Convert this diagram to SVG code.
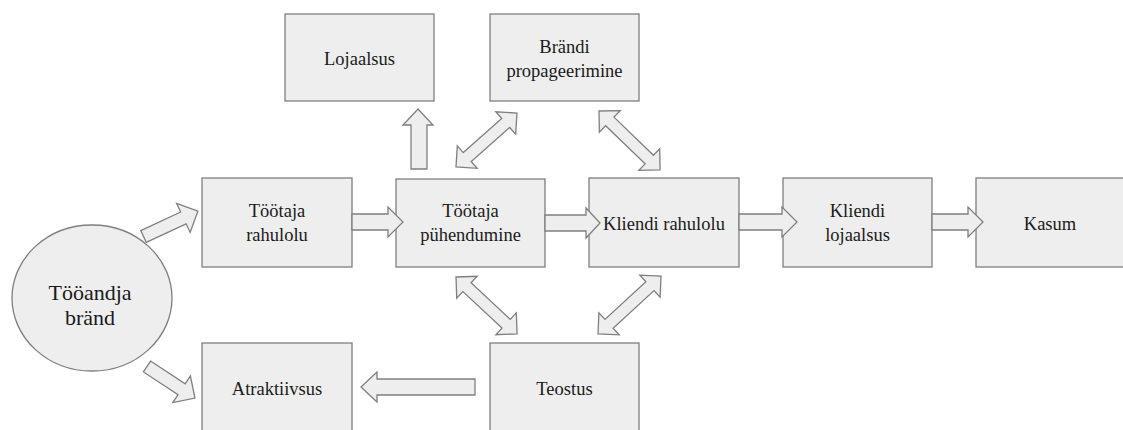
<svg xmlns="http://www.w3.org/2000/svg" width="1123" height="430" viewBox="0 0 1123 430">
<style>
.box{fill:#eeeeee;stroke:#7f7f7f;stroke-width:1.3}
.arr{fill:#eeeeee;stroke:#7f7f7f;stroke-width:1.3;stroke-linejoin:miter}
text{font-family:'Liberation Serif',serif;fill:#1a1a1a;text-anchor:middle}
.t{font-size:18.5px}
.tb{font-size:22px}
</style>
<rect width="1123" height="430" fill="#ffffff"/>
<g id="tooandja-brand">
  <ellipse class="box" cx="92" cy="298" rx="80" ry="73"/>
  <text class="tb" x="90" y="300" font-family="Liberation Serif">Tööandja</text>
  <text class="tb" x="90" y="325" font-family="Liberation Serif">bränd</text>
</g>
<g id="tootaja-rahulolu">
  <rect class="box" x="202" y="178" width="150" height="89"/>
  <text class="t" x="277" y="217">Töötaja</text>
  <text class="t" x="277" y="241">rahulolu</text>
</g>
<g id="tootaja-puhendumine">
  <rect class="box" x="396" y="179" width="149" height="88"/>
  <text class="t" x="470.5" y="217">Töötaja</text>
  <text class="t" x="470.5" y="241">pühendumine</text>
</g>
<g id="kliendi-rahulolu">
  <rect class="box" x="589" y="178" width="150" height="89"/>
  <text class="t" x="664" y="230">Kliendi rahulolu</text>
</g>
<g id="kliendi-lojaalsus">
  <rect class="box" x="783" y="178" width="149" height="89"/>
  <text class="t" x="857.5" y="217">Kliendi</text>
  <text class="t" x="857.5" y="241">lojaalsus</text>
</g>
<g id="kasum">
  <rect class="box" x="976" y="178" width="149" height="89"/>
  <text class="t" x="1050" y="230">Kasum</text>
</g>
<g id="lojaalsus">
  <rect class="box" x="285" y="14" width="149" height="87"/>
  <text class="t" x="359.5" y="65">Lojaalsus</text>
</g>
<g id="brandi-propageerimine">
  <rect class="box" x="490" y="14" width="149" height="87"/>
  <text class="t" x="564.5" y="53">Brändi</text>
  <text class="t" x="564.5" y="77">propageerimine</text>
</g>
<g id="atraktiivsus">
  <rect class="box" x="202" y="343" width="150" height="89"/>
  <text class="t" x="277" y="395">Atraktiivsus</text>
</g>
<g id="teostus">
  <rect class="box" x="490" y="343" width="149" height="89"/>
  <text class="t" x="564.5" y="395">Teostus</text>
</g>
<g id="connectors">
  <polygon class="arr" transform="translate(143.5,236.5) rotate(-25)" points="0,-6.5 44,-6.5 44,-16 60,0 44,16 44,6.5 0,6.5"/>
  <polygon class="arr" transform="translate(147,366.5) rotate(33.3)" points="0,-6.5 41.4,-6.5 41.4,-16 57.4,0 41.4,16 41.4,6.5 0,6.5"/>
  <polygon class="arr" points="352,214 388,214 388,207 403,222 388,237 388,230 352,230"/>
  <polygon class="arr" points="545,215 586,215 586,208 600,223 586,238 586,231 545,231"/>
  <polygon class="arr" points="739,214 782,214 782,207 797,222 782,237 782,230 739,230"/>
  <polygon class="arr" points="932,214 968,214 968,207 983,222 968,237 968,230 932,230"/>
  <polygon class="arr" points="475,379 377,379 377,372 361,387 377,402 377,395 475,395"/>
  <polygon class="arr" points="411,169 411,125 403,125 418,109 433,125 427,125 427,169"/>
  <polygon class="arr" transform="translate(456,167) rotate(-41.5)" points="0,0 15,-15 15,-6 66.4,-6 66.4,-15 81.4,0 66.4,15 66.4,6 15,6 15,15"/>
  <polygon class="arr" transform="translate(599,111) rotate(44)" points="0,0 15,-15 15,-6 69.9,-6 69.9,-15 84.9,0 69.9,15 69.9,6 15,6 15,15"/>
  <polygon class="arr" transform="translate(456,277) rotate(43)" points="0,0 15,-15 15,-6 68.5,-6 68.5,-15 83.5,0 68.5,15 68.5,6 15,6 15,15"/>
  <polygon class="arr" transform="translate(598,334) rotate(-42.6)" points="0,0 15,-15 15,-6 70.6,-6 70.6,-15 85.6,0 70.6,15 70.6,6 15,6 15,15"/>
</g>
</svg>
